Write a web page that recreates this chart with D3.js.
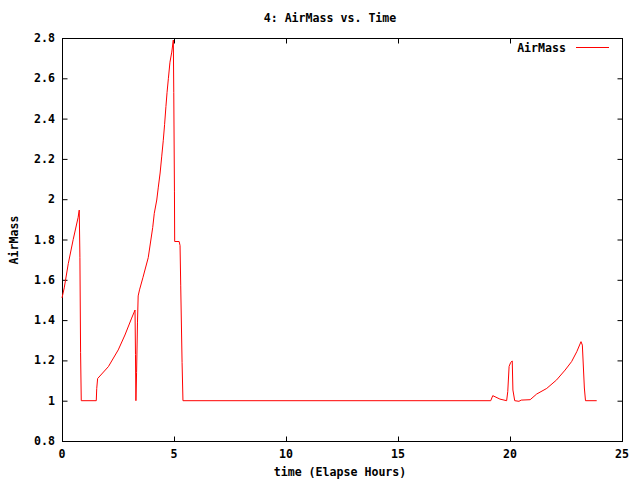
<!DOCTYPE html>
<html>
<head>
<meta charset="utf-8">
<script src="https://cdn.jsdelivr.net/npm/d3@7"></script>
<style>
  body { margin: 0; background: #fff; }
  text { font-family: "DejaVu Sans Mono", monospace; font-size: 11.6px; font-weight: bold; fill: #000; }
</style>
</head>
<body>
<script>
// elapsed hours and airmass
const hours = [0, 0.1, 0.28, 0.5, 0.72, 0.77, 0.8, 0.83, 0.86, 1.53, 1.55, 1.59, 2.07, 2.51, 2.81, 3.11, 3.26,
  3.28, 3.3, 3.33, 3.37, 3.4, 3.46, 3.61, 3.85, 4.05, 4.12, 4.23, 4.3, 4.38, 4.45, 4.52, 4.58, 4.64, 4.69, 4.75,
  4.82, 4.9, 4.97, 4.99, 5.02, 5.03, 5.23, 5.27, 5.3, 5.36, 5.4, 19.14, 19.23, 19.55, 19.85, 19.9, 19.96, 20.03,
  20.1, 20.13, 20.21, 20.4, 20.5, 20.9, 21.19, 21.64, 22.08, 22.46, 22.75, 22.98, 23.17, 23.23, 23.32, 23.37, 23.87]
const airmass = [1.51, 1.56, 1.68, 1.8, 1.91, 1.946, 1.71, 1.24, 1.0, 1.0, 1.06, 1.11, 1.169, 1.252, 1.326, 1.41, 1.45,
  1.23, 1.0, 1.14, 1.39, 1.52, 1.55, 1.61, 1.71, 1.86, 1.93, 1.996, 2.06, 2.13, 2.21, 2.29, 2.37, 2.46, 2.53, 2.6,
  2.68, 2.73, 2.79, 2.53, 2.04, 1.79, 1.79, 1.77, 1.57, 1.19, 1.0, 1.0, 1.025, 1.008, 1.0, 1.045, 1.17, 1.19,
  1.197, 1.053, 1.0, 0.997, 1.003, 1.005, 1.033, 1.061, 1.103, 1.152, 1.194, 1.243, 1.293, 1.276, 1.063, 1.0, 1.0]
const xTicks = [0, 5, 10, 15, 20, 25]
const yTicks = [0.8, 1, 1.2, 1.4, 1.6, 1.8, 2, 2.2, 2.4, 2.6, 2.8]

const width = 640, height = 480
const plotLeft = 62, plotRight = 622, plotTop = 38, plotBottom = 441

const svg = d3.select("body").append("svg")
    .attr("width", width)
    .attr("height", height)

const x = d3.scaleLinear().domain([0, 25]).range([plotLeft, plotRight])
const y = d3.scaleLinear().domain([0.8, 2.8]).range([plotBottom, plotTop])

const tick = 5

// inward ticks on all four sides, gnuplot style
svg.append("g")
    .attr("transform", `translate(0,${plotBottom + 0.5})`)
    .call(d3.axisTop(x).tickValues(xTicks).tickSize(tick).tickFormat(""))
svg.append("g")
    .attr("transform", `translate(0,${plotTop + 0.5})`)
    .call(d3.axisBottom(x).tickValues(xTicks).tickSize(tick).tickFormat(""))
svg.append("g")
    .attr("transform", `translate(${plotLeft + 0.5},0)`)
    .call(d3.axisRight(y).tickValues(yTicks).tickSize(tick).tickFormat(""))
svg.append("g")
    .attr("transform", `translate(${plotRight + 0.5},0)`)
    .call(d3.axisLeft(y).tickValues(yTicks).tickSize(tick).tickFormat(""))
svg.selectAll(".domain").remove()
svg.selectAll(".tick line").attr("stroke", "#000")

svg.append("rect")
    .attr("x", plotLeft + 0.5).attr("y", plotTop + 0.5)
    .attr("width", plotRight - plotLeft).attr("height", plotBottom - plotTop)
    .attr("fill", "none").attr("stroke", "#000")

// tick labels
svg.append("g").selectAll("text")
    .data(xTicks)
    .enter()
    .append("text")
        .attr("x", d => x(d))
        .attr("y", plotBottom + 17)
        .attr("text-anchor", "middle")
        .text(d => d)

svg.append("g").selectAll("text")
    .data(yTicks)
    .enter()
    .append("text")
        .attr("x", plotLeft - 7)
        .attr("y", d => y(d) + 4)
        .attr("text-anchor", "end")
        .text(d => d3.format("")(d))

// titles
svg.append("text")
    .attr("x", 330).attr("y", 22)
    .attr("text-anchor", "middle")
    .text("4: AirMass vs. Time")
svg.append("text")
    .attr("x", 340).attr("y", 476)
    .attr("text-anchor", "middle")
    .text("time (Elapse Hours)")
svg.append("text")
    .attr("transform", "translate(18,240) rotate(-90)")
    .attr("text-anchor", "middle")
    .text("AirMass")

// data line
const line = d3.line()
    .x((d, i) => x(hours[i]))
    .y(d => y(d))

svg.append("path")
    .datum(airmass)
    .attr("d", line)
    .attr("fill", "none")
    .attr("stroke", "#ff0000")
    .attr("stroke-width", 1)

// legend
svg.append("text")
    .attr("x", 566).attr("y", 52)
    .attr("text-anchor", "end")
    .text("AirMass")
svg.append("line")
    .attr("x1", 576).attr("x2", 609)
    .attr("y1", 47.5).attr("y2", 47.5)
    .attr("stroke", "#ff0000")
</script>
</body>
</html>
